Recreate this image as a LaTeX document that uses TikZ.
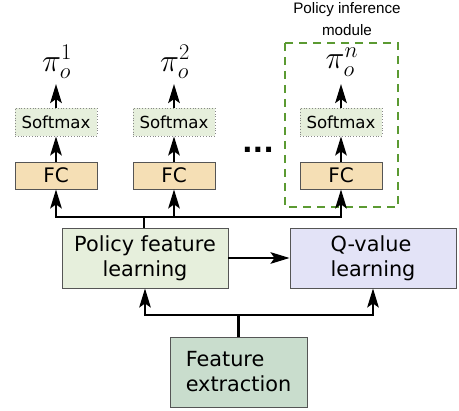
\RequirePackage{fix-cm}
\documentclass[tikz,border=0pt]{standalone}
\usepackage{fontspec}
\setmainfont{DejaVu Sans}
\newfontfamily\titlefont{Liberation Sans}
\usetikzlibrary{arrows.meta}
\definecolor{fcfill}{HTML}{F5DFB5}
\definecolor{smfill}{HTML}{E6EFDC}
\definecolor{pflfill}{HTML}{E6EFDC}
\definecolor{qvfill}{HTML}{E3E3F7}
\definecolor{fefill}{HTML}{C9DDCD}
\definecolor{boxdraw}{HTML}{555555}
\definecolor{modgreen}{HTML}{5B9A32}
\tikzset{
  fcbox/.style={draw=boxdraw, line width=0.8pt, fill=fcfill, minimum width=82pt, minimum height=27pt, inner sep=0pt, font=\fontsize{20}{22}\selectfont},
  smbox/.style={draw=boxdraw!70, dotted, line width=0.8pt, fill=smfill, minimum width=82pt, minimum height=28pt, inner sep=0pt, font=\fontsize{16.6}{20}\selectfont},
  bigbox/.style={draw=boxdraw, line width=0.9pt, minimum width=166pt, minimum height=60pt, inner sep=0pt, font=\fontsize{20.8}{25}\selectfont},
  pilabel/.style={inner sep=0pt, font=\fontsize{32}{32}\selectfont},
  arr/.style={line width=2.5pt, -{Stealth[length=19pt,width=11.5pt,inset=4pt]}},
  ln/.style={line width=2.5pt}
}
\begin{document}
\begin{tikzpicture}[x=1pt,y=-1pt]
\useasboundingbox (0,0) rectangle (459,411);
% dashed module box
\draw[modgreen, line width=1.3pt, dash pattern=on 8pt off 6pt] (285,43) rectangle (398,207);
\node[font=\titlefont\fontsize{15.2}{22}\selectfont, align=center, inner sep=0pt] (title) at (347,19) {Policy inference\\module};
% columns
\node[fcbox] (fc1) at (56,175.5) {FC};
\node[fcbox] (fc2) at (174,175.5) {FC};
\node[fcbox] (fc3) at (341,175.5) {FC};
\node[smbox] (sm1) at (56,122) {Softmax};
\node[smbox] (sm2) at (174,122) {Softmax};
\node[smbox] (sm3) at (341,122) {Softmax};
\node[pilabel] (pi1) at (57,62) {$\pi_o^1$};
\node[pilabel] (pi2) at (175,62) {$\pi_o^2$};
\node[pilabel] (pi3) at (342,62) {$\pi_o^n$};
\node[inner sep=0pt, anchor=base, font=\fontsize{28}{28}\selectfont\bfseries] (dots) at (258,153) {...};
% big boxes
\node[bigbox, fill=pflfill, align=center] (pfl) at (145,258) {Policy feature\\learning};
\node[bigbox, fill=qvfill, align=left] (qv) at (373,258) {Q-value\\learning};
\node[bigbox, fill=fefill, align=left, minimum width=137pt, minimum height=70pt] (fe) at (238.5,372) {Feature\\extraction};
% arrows in columns
\foreach \i in {1,2,3}{
  \draw[arr] (fc\i.north) -- (sm\i.south);
  \draw[arr] (sm\i.north) -- (sm\i.north |- 0,84);
}
% upper bus
\coordinate (ub) at (144,217);
\draw[ln] (pfl.north -| ub) -- (ub);
\draw[ln] ([xshift=-1.25pt]fc1.south |- ub) -- ([xshift=1.25pt]fc3.south |- ub);
\foreach \i in {1,2,3}{
  \draw[arr] (fc\i.south |- ub) -- (fc\i.south);
}
% horizontal arrow
\draw[arr] (pfl.east) -- (qv.west);
% lower bus
\coordinate (lb) at (238.5,315);
\draw[ln] (fe.north) -- (lb);
\draw[ln] ([xshift=-1.25pt]pfl.south |- lb) -- ([xshift=1.25pt]qv.south |- lb);
\draw[arr] (pfl.south |- lb) -- (pfl.south);
\draw[arr] (qv.south |- lb) -- (qv.south);
\end{tikzpicture}
\end{document}
